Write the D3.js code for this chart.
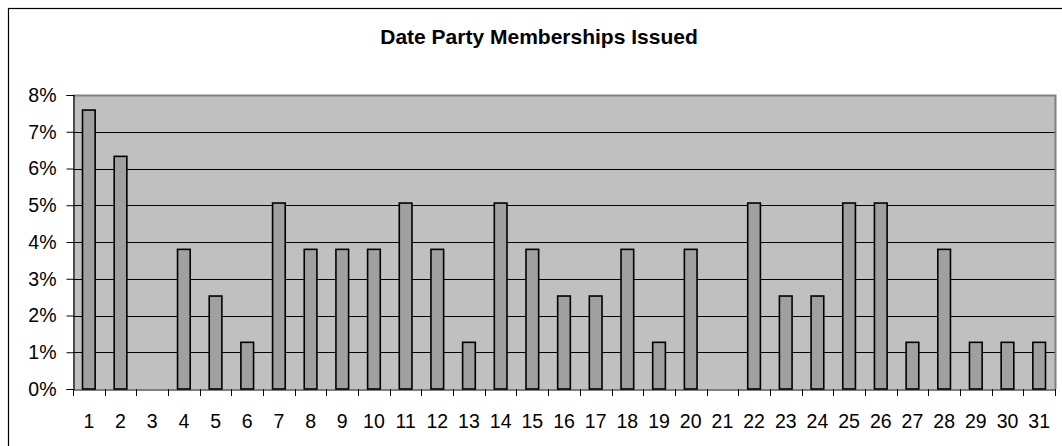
<!DOCTYPE html>
<html>
<head>
<meta charset="utf-8">
<script src="https://cdn.jsdelivr.net/npm/d3@7"></script>
<style>
  body { margin: 0; background: #fff; }
  svg { display: block; font-family: Arial, "Liberation Sans", sans-serif; }
</style>
</head>
<body>
<div id="chart"></div>
<script>
// Chart data (percent of memberships issued per day of month)
var days = ["1","2","3","4","5","6","7","8","9","10","11","12","13","14","15","16",
            "17","18","19","20","21","22","23","24","25","26","27","28","29","30","31"];
var percents = [7.59, 6.33, 0, 3.80, 2.53, 1.27, 5.06, 3.80, 3.80, 3.80, 5.06, 3.80, 1.27, 5.06, 3.80, 2.53,
                2.53, 3.80, 1.27, 3.80, 0, 5.06, 2.53, 2.53, 5.06, 5.06, 1.27, 3.80, 1.27, 1.27, 1.27];
var yTicks = [0, 1, 2, 3, 4, 5, 6, 7, 8];

var w = 1062, h = 446;
var plot = { left: 73, right: 1055, top: 95, bottom: 389 };

var svg = d3.select("#chart")
    .append("svg")
    .attr("width", w)
    .attr("height", h);

// Outer chart frame (only top/left edges visible in the window)
svg.append("rect")
    .attr("x", 8.5).attr("y", 8.5)
    .attr("width", w + 20).attr("height", h + 20)
    .attr("fill", "#fff")
    .attr("stroke", "#000")
    .attr("stroke-width", 1.2);

// Scales
var xScale = d3.scaleBand()
    .domain(days)
    .range([plot.left, plot.right])
    .paddingInner(0)
    .paddingOuter(0);

var yScale = d3.scaleLinear()
    .domain([0, 8])
    .range([plot.bottom, plot.top]);

// Plot background
svg.append("rect")
    .attr("x", plot.left).attr("y", plot.top)
    .attr("width", plot.right - plot.left)
    .attr("height", plot.bottom - plot.top)
    .attr("fill", "#c0c0c0");

// Gridlines
svg.append("g")
    .selectAll("line")
    .data(yTicks.filter(function(d) { return d > 0 && d < 8; }))
    .enter()
    .append("line")
    .attr("x1", plot.left).attr("x2", plot.right)
    .attr("y1", function(d) { return Math.round(yScale(d)) + 0.5; })
    .attr("y2", function(d) { return Math.round(yScale(d)) + 0.5; })
    .attr("stroke", "#000")
    .attr("stroke-width", 1);

// Plot area top/right border (gray)
svg.append("path")
    .attr("d", "M" + plot.left + "," + (plot.top + 0.5) + "H" + (plot.right + 0.5) + "V" + plot.bottom)
    .attr("fill", "none")
    .attr("stroke", "#808080")
    .attr("stroke-width", 2);

// Bars
var barW = xScale.bandwidth() * 0.4;
svg.append("g")
    .selectAll("rect")
    .data(percents)
    .enter()
    .append("rect")
    .attr("x", function(d, i) { return xScale(days[i]) + (xScale.bandwidth() - barW) / 2; })
    .attr("y", function(d) { return yScale(d); })
    .attr("width", barW)
    .attr("height", function(d) { return plot.bottom - yScale(d); })
    .attr("fill", function(d) { return d > 0 ? "#a0a0a0" : "none"; })
    .attr("stroke", function(d) { return d > 0 ? "#000" : "none"; })
    .attr("stroke-width", 1.6);

// Y axis
var yAxis = d3.axisLeft(yScale)
    .tickValues(yTicks)
    .tickSize(7)
    .tickPadding(10)
    .tickFormat(function(d) { return d + "%"; });

svg.append("g")
    .attr("transform", "translate(" + (plot.left + 0.5) + ",0)")
    .call(yAxis)
    .call(function(g) {
        g.select(".domain").attr("stroke", "#000").attr("stroke-width", 1.2);
        g.selectAll(".tick line").attr("stroke", "#000");
        g.selectAll("text").attr("font-size", "19.5px").attr("fill", "#000")
            .attr("font-family", "Arial, 'Liberation Sans', sans-serif");
    });

// X axis: ticks at category boundaries
var xAxis = d3.axisBottom(xScale)
    .tickSize(0)
    .tickPadding(25);

svg.append("g")
    .attr("transform", "translate(0," + (plot.bottom + 0.5) + ")")
    .call(xAxis)
    .call(function(g) {
        g.select(".domain").attr("stroke", "#000").attr("stroke-width", 1.2);
        g.selectAll("text").attr("font-size", "19.5px").attr("fill", "#000")
            .attr("font-family", "Arial, 'Liberation Sans', sans-serif");
    });

svg.append("g")
    .selectAll("line")
    .data(days)
    .enter()
    .append("line")
    .attr("x1", function(d) { return Math.round(xScale(d) + xScale.bandwidth()) + 0.5; })
    .attr("x2", function(d) { return Math.round(xScale(d) + xScale.bandwidth()) + 0.5; })
    .attr("y1", plot.bottom)
    .attr("y2", plot.bottom + 7)
    .attr("stroke", "#000");

svg.append("line")
    .attr("x1", plot.left + 0.5).attr("x2", plot.left + 0.5)
    .attr("y1", plot.bottom).attr("y2", plot.bottom + 7)
    .attr("stroke", "#000");

// Title
svg.append("text")
    .attr("x", 539)
    .attr("y", 44)
    .attr("text-anchor", "middle")
    .attr("font-size", "21px")
    .attr("font-weight", "bold")
    .attr("fill", "#000")
    .text("Date Party Memberships Issued");
</script>
</body>
</html>
